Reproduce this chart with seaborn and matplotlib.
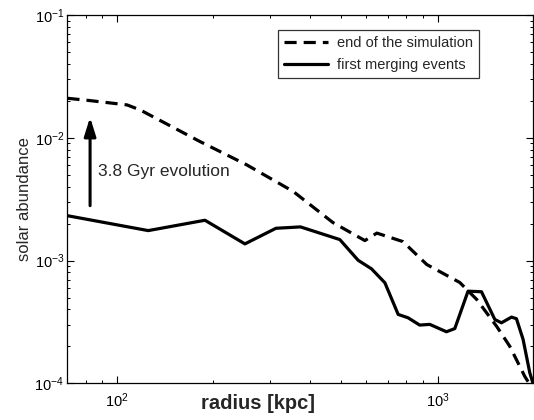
import numpy as np
import pandas as pd
import matplotlib
matplotlib.use("Agg")
import matplotlib.pyplot as plt
import seaborn as sns
from matplotlib.ticker import LogLocator, NullFormatter

# data
end_radius = [70.2, 82.6, 107.7, 118.2, 181.7, 254, 354.8, 472, 593.6, 647, 780,
              926, 1173, 1325, 1530, 1680, 1870, 1982]
end_abund = [0.0210, 0.0201, 0.01854, 0.0169, 0.00933, 0.00603, 0.00366, 0.00204,
             0.001455, 0.001674, 0.001427, 0.000928, 0.000663, 0.000482, 0.00029,
             0.0002, 0.000114, 0.0000894]

first_radius = [70.2, 125.4, 188.4, 251, 313.6, 374, 496, 565.7, 622.7, 685.5, 754,
                809, 880, 946, 1066, 1132, 1245, 1371, 1509, 1582, 1700, 1762, 1848,
                1939, 2010]
first_abund = [0.00232, 0.001754, 0.00213, 0.001367, 0.001832, 0.00188, 0.001482,
               0.001005, 0.000856, 0.000659, 0.000364, 0.000342, 0.000298, 0.000302,
               0.000263, 0.000279, 0.000563, 0.000557, 0.000331, 0.000311, 0.000346,
               0.000336, 0.000228, 0.000122, 0.0000894]

series_names = ["end of the simulation", "first merging events"]
annotation = "3.8 Gyr evolution"
arrow_x = 82.6
arrow_y = [0.0028, 0.0147]

sns.set_style("ticks")
plt.rcParams["font.family"] = ["Liberation Sans", "DejaVu Sans"]
plt.rcParams["mathtext.default"] = "regular"

df_end = pd.DataFrame({"radius": end_radius, "abund": end_abund})
df_first = pd.DataFrame({"radius": first_radius, "abund": first_abund})

fig = plt.figure(figsize=(5.34, 4.20), dpi=100)
ax = fig.add_axes([0.1255, 0.0874, 0.8727, 0.8767])

sns.lineplot(data=df_end, x="radius", y="abund", ax=ax, color="black", lw=2.3,
             estimator=None, sort=False, label=series_names[0], dashes=False)
sns.lineplot(data=df_first, x="radius", y="abund", ax=ax, color="black", lw=2.3,
             estimator=None, sort=False, label=series_names[1])
ax.lines[0].set_dashes((3.8, 2.2))

ax.set_xscale("log")
ax.set_yscale("log")
ax.set_xlim(70, 1985)
ax.set_ylim(1e-4, 1e-1)

ax.annotate("", xy=(arrow_x, arrow_y[1]), xytext=(arrow_x, arrow_y[0]),
            arrowprops=dict(arrowstyle="-|>,head_length=0.7,head_width=0.22",
                            color="black", lw=2.2,
                            mutation_scale=16, shrinkA=0, shrinkB=0))
ax.text(87.6, 0.00532, annotation, fontsize=12.5, va="center", ha="left")

for s in ax.spines.values():
    s.set_visible(True)
    s.set_linewidth(0.9)
    s.set_color("black")

ax.yaxis.set_major_locator(LogLocator(base=10, numticks=10))
ax.yaxis.set_minor_locator(LogLocator(base=10, subs=np.arange(2, 10), numticks=10))
ax.yaxis.set_minor_formatter(NullFormatter())
ax.xaxis.set_minor_formatter(NullFormatter())
ax.tick_params(which="both", direction="in", top=True, right=True, colors="black",
               labelsize=10.5)
ax.tick_params(which="major", length=5, width=0.8)
ax.tick_params(axis="x", which="major", pad=6)
ax.tick_params(axis="y", which="major", pad=2)
ax.tick_params(which="minor", length=2.5, width=0.7)

ax.set_ylabel("solar abundance", fontsize=12, labelpad=2)
ax.set_xlabel("radius [kpc]", fontsize=14.5, fontweight="bold")
ax.xaxis.set_label_coords(0.41, -0.03)

leg = ax.legend(loc="upper right", bbox_to_anchor=(0.883, 0.96), borderaxespad=0,
                frameon=True, fancybox=False, edgecolor="black", fontsize=10.5,
                handlelength=3.0, borderpad=0.4, labelspacing=0.6,
                handletextpad=0.6)
leg.get_frame().set_linewidth(0.9)

fig.savefig("out.png", dpi=100)
